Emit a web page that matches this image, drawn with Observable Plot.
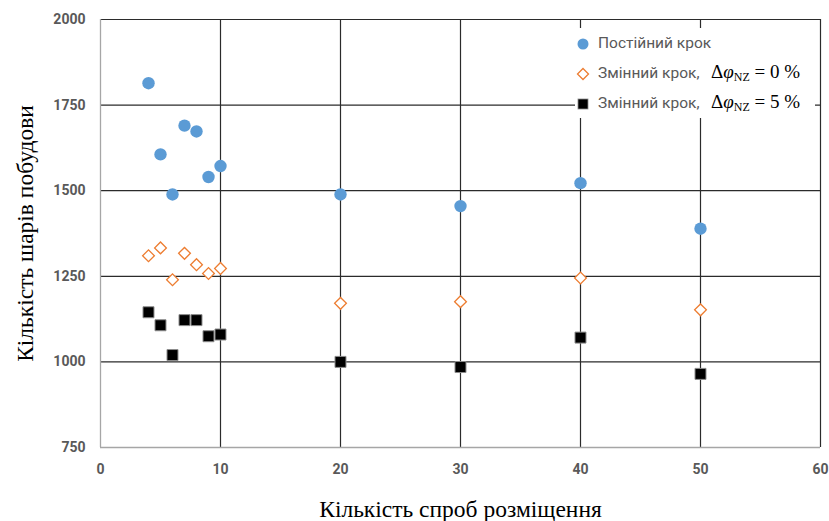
<!DOCTYPE html>
<html><head><meta charset="utf-8">
<script src="https://cdn.jsdelivr.net/npm/d3@7"></script>
<script src="https://cdn.jsdelivr.net/npm/@observablehq/plot@0.6"></script>
<style>
body{margin:0;background:#fff}
#wrap{position:relative;width:829px;height:521px}
#legend{position:absolute;left:575px;top:28px;width:240px;height:90px;background:#fff;font-family:Roboto,sans-serif;font-size:15.5px;color:#595959}
.row{position:absolute;left:0;height:24px;width:240px}
.row svg{position:absolute;left:1px;top:5px}
.row .lbl{position:absolute;left:23px;top:2px;white-space:nowrap}
.row .math{position:absolute;left:136px;top:-1px;font-family:"Liberation Serif",serif;font-size:19px;color:#000;white-space:nowrap}
.math sub{font-size:12px;vertical-align:-3px}
</style></head>
<body><div id="wrap"></div>
<script>
const attempts = [4, 5, 6, 7, 8, 9, 10, 20, 30, 40, 50];
const constStep = [1814, 1606, 1489, 1690, 1673, 1540, 1572, 1489, 1455, 1522, 1389];
const varStep0 = [1310, 1333, 1240, 1317, 1284, 1258, 1273, 1171, 1176, 1245, 1152];
const varStep5 = [1145, 1107, 1020, 1122, 1122, 1075, 1080, 1000, 985, 1071, 965];
const xTicks = [0, 10, 20, 30, 40, 50, 60];
const yTicks = [750, 1000, 1250, 1500, 1750, 2000];
const seriesNames = ["Постійний крок", "Змінний крок,", "Змінний крок,"];
const xTitle = "Кількість спроб розміщення";
const yTitle = "Кількість шарів побудови";

const rows = attempts.map((a, i) => ({a, c: constStep[i], v0: varStep0[i], v5: varStep5[i]}));

const chart = Plot.plot({
  width: 829, height: 521,
  marginLeft: 100, marginRight: 9, marginTop: 19, marginBottom: 74,
  x: {domain: [0, 60]},
  y: {domain: [750, 2000]},
  style: {fontFamily: "Roboto, sans-serif", background: "#fff"},
  marks: [
    Plot.gridX(xTicks.filter(d => d > 0), {stroke: "#2b2b2b", strokeOpacity: 1, strokeWidth: 1.2}),
    Plot.gridY(yTicks.filter(d => d > 750), {stroke: "#2b2b2b", strokeOpacity: 1, strokeWidth: 1.2}),
    Plot.ruleX([0], {stroke: "#a6a6a6", strokeWidth: 1.3}),
    Plot.ruleY([750], {stroke: "#a6a6a6", strokeWidth: 1.3}),
    Plot.axisX({ticks: xTicks, tickSize: 0, tickPadding: 17, fontSize: 14, fontWeight: "bold", color: "#595959", label: null, tickFormat: "d"}),
    Plot.axisY({ticks: yTicks, tickSize: 0, tickPadding: 15, fontSize: 14, fontWeight: "bold", color: "#595959", label: null, tickFormat: "d"}),
    Plot.dot(rows, {x: "a", y: "c", r: 6.2, fill: "#5b9bd5"}),
    Plot.dot(rows, {x: "a", y: "v0", symbol: "square", r: 4.7, rotate: 45, fill: "#fff", stroke: "#ed7d31", strokeWidth: 1.3}),
    Plot.dot(rows, {x: "a", y: "v5", symbol: "square", r: 6.2, fill: "#000", stroke: "#8c8c8c", strokeWidth: 1}),
    Plot.text([yTitle], {frameAnchor: "left", textAnchor: "middle", lineAnchor: "middle", rotate: -90, dx: -75, fontFamily: "Liberation Serif, serif", fontSize: 23.5, fill: "#000"}),
    Plot.text([xTitle], {frameAnchor: "bottom", textAnchor: "middle", lineAnchor: "middle", dy: 61.5, fontFamily: "Liberation Serif, serif", fontSize: 23.5, fill: "#000"})
  ]
});
const wrap = document.getElementById("wrap");
wrap.appendChild(chart);

const legend = document.createElement("div");
legend.id = "legend";
const syms = [
  '<svg width="14" height="14"><circle cx="7" cy="7" r="5.5" fill="#5b9bd5"/></svg>',
  '<svg width="14" height="14"><path d="M7,1.5 L12.5,7 L7,12.5 L1.5,7 Z" fill="#fff" stroke="#ed7d31" stroke-width="1.3"/></svg>',
  '<svg width="14" height="14"><rect x="2" y="2" width="10" height="10" fill="#000" stroke="#8c8c8c" stroke-width="0.8"/></svg>'
];
const maths = [null, "0", "5"];
[4, 34, 64].forEach((top, i) => {
  const r = document.createElement("div");
  r.className = "row";
  r.style.top = top + "px";
  let html = syms[i] + '<span class="lbl">' + seriesNames[i] + '</span>';
  if (maths[i] !== null) html += '<span class="math">Δ<i>φ</i><sub>NZ</sub> = ' + maths[i] + ' %</span>';
  r.innerHTML = html;
  legend.appendChild(r);
});
wrap.appendChild(legend);
</script>
</body></html>
